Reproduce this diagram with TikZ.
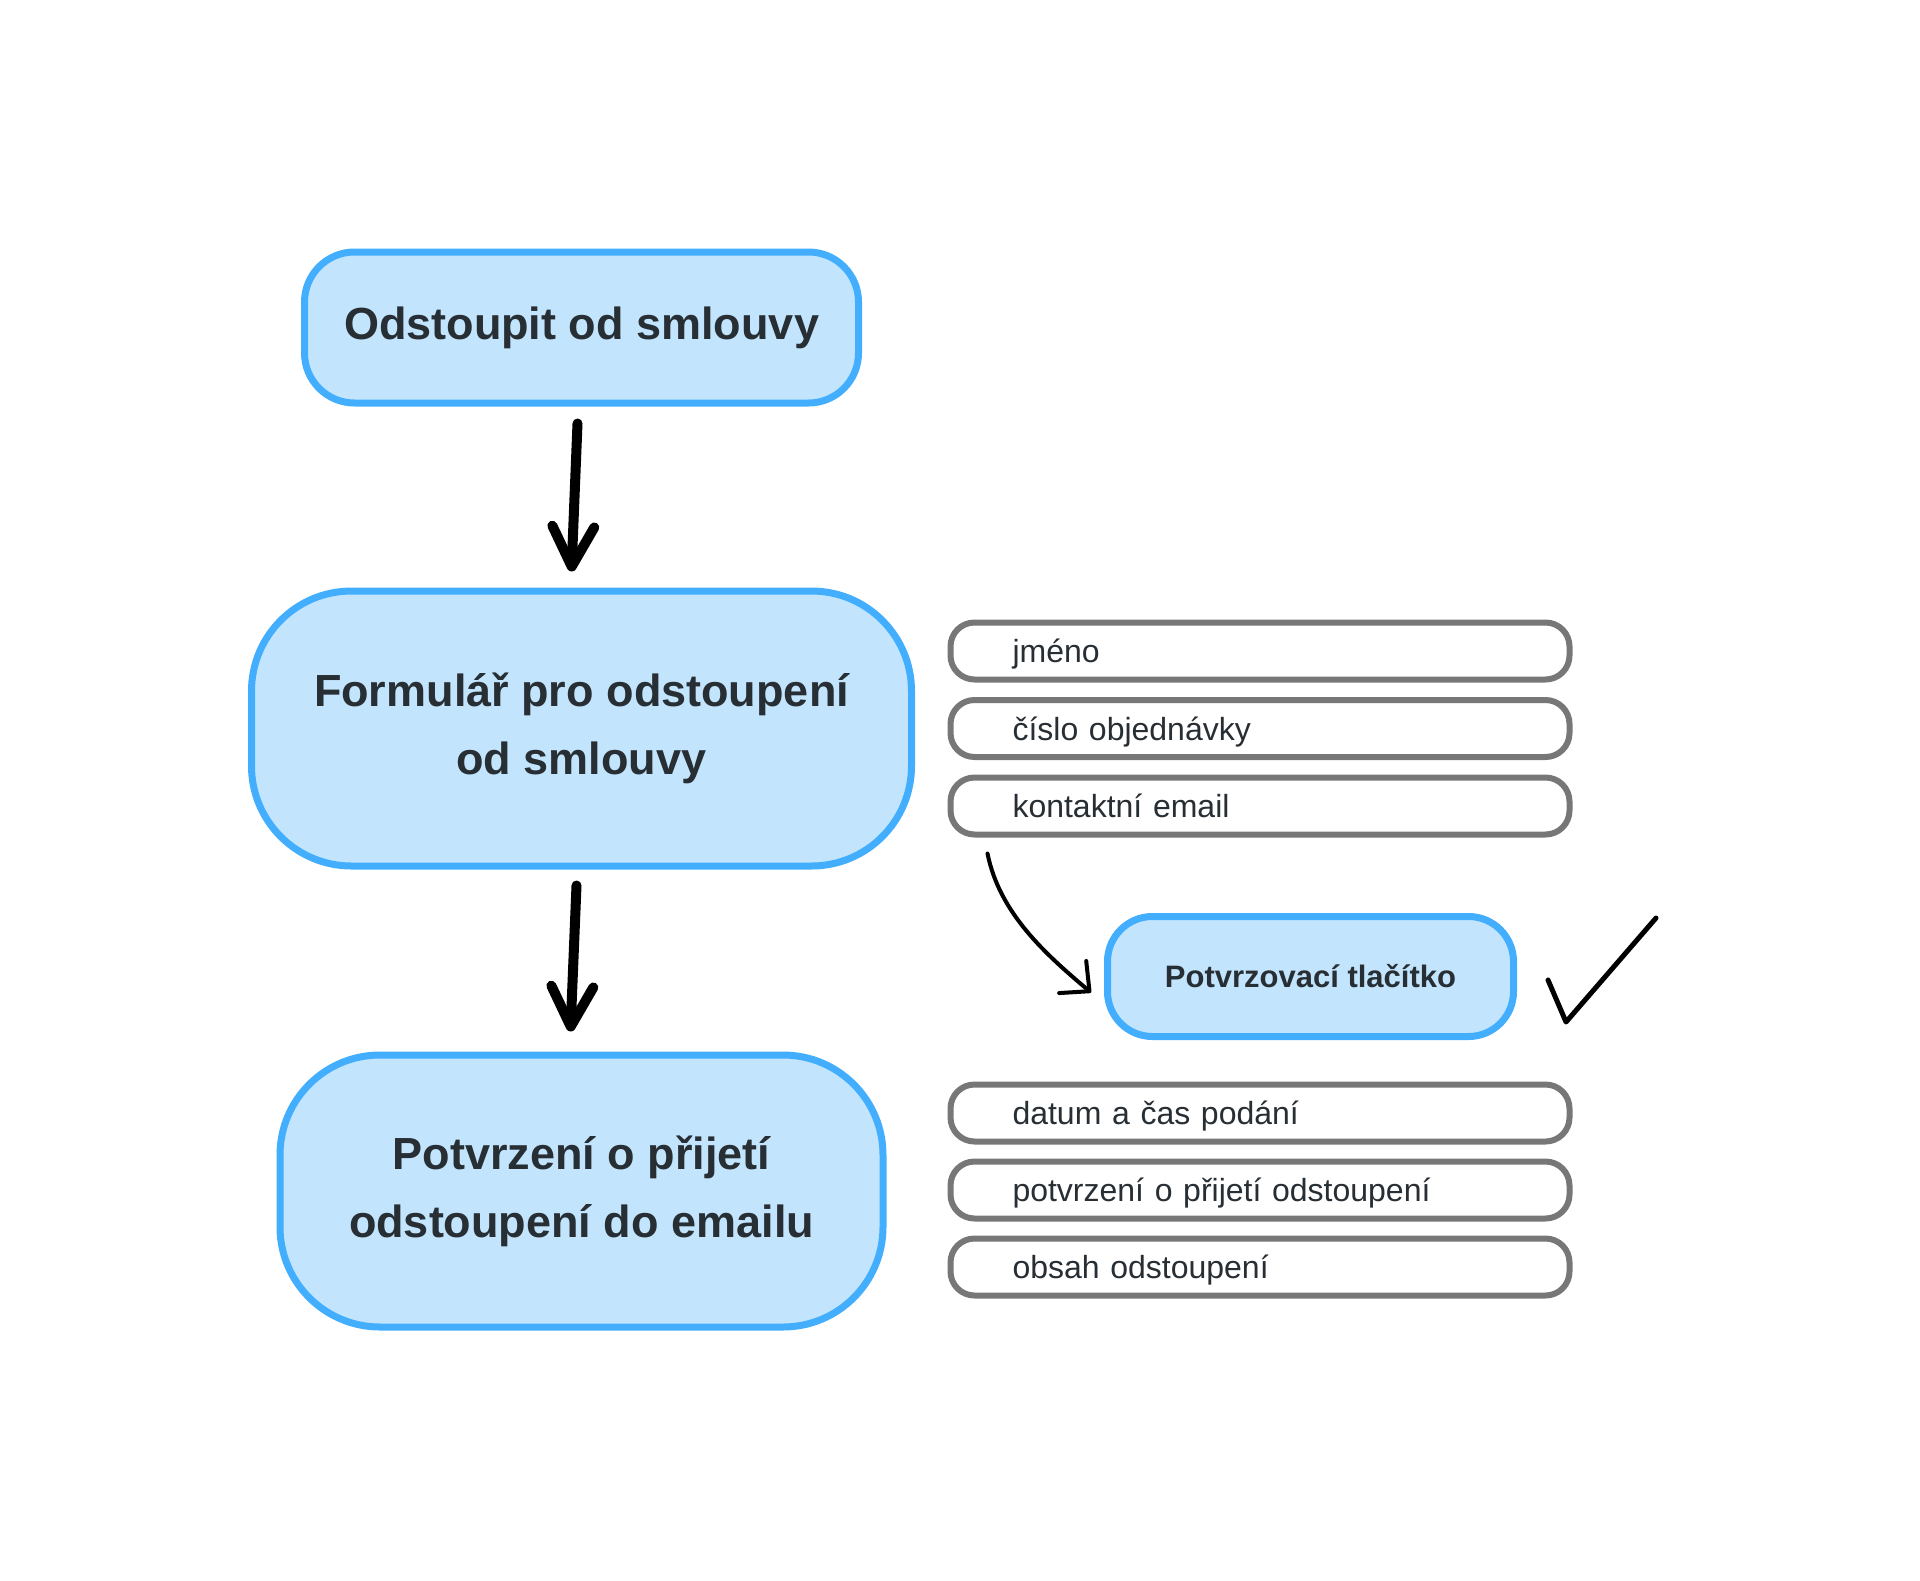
\documentclass[tikz,border=0pt]{standalone}
\usepackage{fontspec}
\setmainfont{Liberation Sans}
\usetikzlibrary{arrows.meta,positioning}
\definecolor{stepblue}{HTML}{42AEFD}
\definecolor{stepfill}{HTML}{C2E5FD}
\definecolor{fieldgray}{HTML}{777777}
\definecolor{ink}{HTML}{272E34}
\begin{document}
\begin{tikzpicture}[x=1pt, y=-1pt, line cap=round, line join=round,
    stage/.style={draw=stepblue, fill=stepfill, line width=7pt, text=ink, align=center,
      font=\fontsize{45}{68}\selectfont\bfseries},
    field/.style={draw=fieldgray, line width=6pt, rounded corners=24pt, minimum height=57pt,
      text width=495pt, inner xsep=62pt, inner ysep=0pt, align=left, text=ink,
      font=\fontsize{32}{38}\selectfont, text height=30pt, text depth=7pt},
    flow/.style={line width=10pt, -{Straight Barb[round,length=40pt,width=42pt]}},
    hint/.style={line width=4pt, -{Straight Barb[round,length=22pt,width=42pt]}}]
    \fill[white] (0,0) rectangle (1920,1580);
    \useasboundingbox (0,0) rectangle (1920,1580);
    % main steps
    \node[stage, minimum width=554pt, minimum height=151pt, rounded corners=50pt] (withdraw) at (581.5,327.5) {Odstoupit od smlouvy};
    \node[stage, minimum width=660pt, minimum height=275pt, rounded corners=100pt, below=181pt of withdraw] (form) {Formulář pro odstoupení\\od smlouvy};
    \node[stage, minimum width=603pt, minimum height=272pt, rounded corners=100pt, below=182pt of form] (receipt) {Potvrzení o přijetí\\odstoupení do emailu};
    \node[stage, font=\fontsize{31}{37}\selectfont\bfseries, minimum width=406pt, minimum height=120pt, rounded corners=45pt] (confirm) at (1310.5,976.5) {Potvrzovací tlačítko};
    % form fields and email contents
    \foreach \name/\y/\txt in {name/651/jméno, order/728.5/číslo objednávky, contact/806/kontaktní email,
        submitted/1113/datum a čas podání, confirmed/1190/potvrzení o přijetí odstoupení, content/1267/obsah odstoupení}
      \node[field] (\name) at (1260,\y) {\txt};
    \draw[flow] ([xshift=-4pt,yshift=-17pt]withdraw.south) -- ([xshift=-10pt,yshift=16pt]form.north);
    \draw[flow] ([xshift=-5pt,yshift=-16pt]form.south) -- ([xshift=-11pt,yshift=20pt]receipt.north);
    \draw[hint] ([xshift=40pt,yshift=-16pt]contact.south west) .. controls +(12,60) and +(-45,-38) .. ([xshift=-13pt,yshift=-16pt]confirm.west);
    \draw[line width=5pt] (1548,980) -- (1566,1022) -- (1656,918);
  \end{tikzpicture}
\end{document}
